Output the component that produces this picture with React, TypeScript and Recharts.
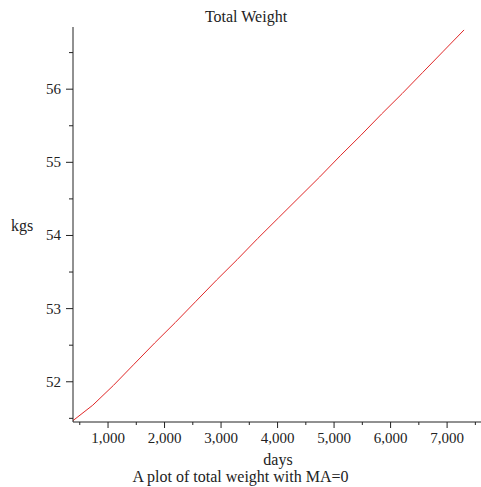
import { LineChart, Line, XAxis, YAxis } from "recharts";

const days = [365, 730, 1095, 1460, 1825, 2190, 2555, 2920, 3285, 3650, 4015, 4380, 4745, 5110, 5475, 5840, 6205, 6570, 6935, 7300];
const weights = [51.46, 51.68, 51.95, 52.24, 52.53, 52.81, 53.1, 53.39, 53.67, 53.96, 54.24, 54.52, 54.8, 55.09, 55.37, 55.66, 55.94, 56.23, 56.52, 56.81];
const xTicks = [500, 1000, 1500, 2000, 2500, 3000, 3500, 4000, 4500, 5000, 5500, 6000, 6500, 7000, 7500];
const yTicks = [51.5, 52, 52.5, 53, 53.5, 54, 54.5, 55, 55.5, 56, 56.5];

const data = days.map((d, i) => ({ day: d, weight: weights[i] }));

const font = "'Liberation Serif', 'Times New Roman', serif";
const ink = "#222";

function XTick(props: any) {
  const { x, y, payload } = props;
  const v = Number(payload.value);
  const major = v % 1000 === 0;
  return (
    <g>
      <line x1={x} x2={x} y1={y} y2={y + (major ? 6 : 3)} stroke={ink} />
      {major && (
        <text x={x} y={y + 21} textAnchor="middle" fontFamily={font} fontSize={15} fill={ink}>
          {v.toLocaleString("en-US")}
        </text>
      )}
    </g>
  );
}

function YTick(props: any) {
  const { x, y, payload } = props;
  const v = Number(payload.value);
  const major = Number.isInteger(v);
  return (
    <g>
      <line x1={x - (major ? 7 : 4)} x2={x} y1={y} y2={y} stroke={ink} />
      {major && (
        <text x={x - 12} y={y + 5} textAnchor="end" fontFamily={font} fontSize={15} fill={ink}>
          {v}
        </text>
      )}
    </g>
  );
}

const textStyle = { position: "absolute" as const, fontFamily: font, fontSize: 16, color: ink, whiteSpace: "nowrap" as const, lineHeight: "18px" };

export default function App() {
  return (
    <div style={{ position: "absolute", left: 0, top: 0, width: 481, height: 487, background: "#fff" }}>
      <LineChart width={481} height={487} data={data} margin={{ top: 27, right: 0, bottom: 0, left: 0 }}>
        <XAxis
          dataKey="day"
          type="number"
          domain={[380, 7600]}
          ticks={xTicks}
          interval={0}
          allowDataOverflow
          height={65}
          tickSize={0}
          tickMargin={0}
          tickLine={false}
          axisLine={{ stroke: ink }}
          tick={<XTick />}
        />
        <YAxis
          type="number"
          domain={[51.45, 56.85]}
          ticks={yTicks}
          interval={0}
          allowDataOverflow
          width={73}
          tickSize={0}
          tickMargin={0}
          tickLine={false}
          axisLine={{ stroke: ink }}
          tick={<YTick />}
        />
        <Line type="linear" dataKey="weight" stroke="#e02828" strokeWidth={1} dot={false} isAnimationActive={false} />
      </LineChart>
      <div style={{ ...textStyle, left: 0, width: 492, top: 8, textAlign: "center" }}>Total Weight</div>
      <div style={{ ...textStyle, left: 11, top: 217 }}>kgs</div>
      <div style={{ ...textStyle, left: 178, width: 200, top: 451, textAlign: "center" }}>days</div>
      <div style={{ ...textStyle, left: 0, width: 481, top: 468, textAlign: "center" }}>A plot of total weight with MA=0</div>
    </div>
  );
}
